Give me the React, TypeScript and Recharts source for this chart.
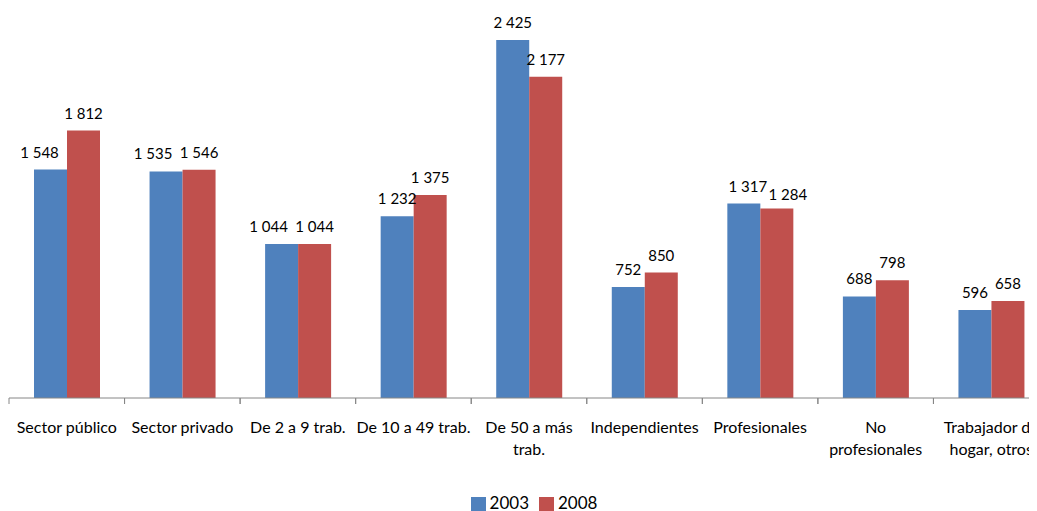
import React from "react";
import { BarChart, Bar, XAxis, YAxis, Legend, LabelList } from "recharts";

// categories (one line per entry, "\n" where the original label wraps)
const categories = [
  "Sector público",
  "Sector privado",
  "De 2 a 9 trab.",
  "De 10 a 49 trab.",
  "De 50 a más\ntrab.",
  "Independientes",
  "Profesionales",
  "No\nprofesionales",
  "Trabajador de\nhogar, otros",
];

const values2003 = [1548, 1535, 1044, 1232, 2425, 752, 1317, 688, 596];
const values2008 = [1812, 1546, 1044, 1375, 2177, 850, 1284, 798, 658];

const data = categories.map((name, i) => ({
  name,
  y2003: values2003[i],
  y2008: values2008[i],
}));

const BLUE = "#4F81BD";
const RED = "#C0504D";
const FONT = "Lato, 'Open Sans', sans-serif";

const WIDTH = 1041;
const PLOT_W = 1040;
const STEP = PLOT_W / categories.length;

// the source nudged a few labels sideways so they don't collide
const nudge2003: Record<number, number> = { 0: -11, 1: -13, 2: -13, 6: 4 };
const nudge2008: Record<number, number> = { 6: 11 };

// thousands with a space, as in the source
const fmt = (v: number) => String(v).replace(/\B(?=(\d{3})+(?!\d))/g, " ");

const CategoryTick = (props: any) => {
  const { x, y, payload } = props;
  const lines = String(payload.value).split("\n");
  const left = x - STEP / 2;
  return (
    <g>
      <line x1={left} y1={y - 8} x2={left} y2={y - 2} stroke="#868686" />
      <line x1={left + STEP} y1={y - 8} x2={left + STEP} y2={y - 2} stroke="#868686" />
      <text x={x} y={y + 27} textAnchor="middle" fontSize={16} fill="#000" fontFamily={FONT}>
        {lines.map((l, i) => (
          <tspan key={i} x={x} dy={i === 0 ? 0 : 22}>
            {l}
          </tspan>
        ))}
      </text>
    </g>
  );
};

const makeLabel = (nudge: Record<number, number>) => (props: any) => {
  const { x, y, width, value, index } = props;
  const dx = nudge[index] || 0;
  const dy = index === 6 && nudge === nudge2008 ? 4 : 0;
  return (
    <text x={x + width / 2 + dx} y={y - 12 + dy} textAnchor="middle" fontSize={15} fill="#000" fontFamily={FONT}>
      {fmt(value)}
    </text>
  );
};

const Label2003 = makeLabel(nudge2003);
const Label2008 = makeLabel(nudge2008);

const App = () => {
  return (
    <div style={{ width: WIDTH, height: 505, fontFamily: FONT }}>
      <BarChart
        width={WIDTH}
        height={505}
        data={data}
        margin={{ top: 21, right: 0, left: 1, bottom: 0 }}
        barGap={0}
      >
        <XAxis
          dataKey="name"
          interval={0}
          height={94}
          tickLine={false}
          axisLine={{ stroke: "#868686" }}
          tick={<CategoryTick />}
        />
        <YAxis hide domain={[0, 2500]} />
        <Legend
          verticalAlign="bottom"
          iconType="square"
          iconSize={15}
          wrapperStyle={{ fontSize: 17, fontFamily: FONT, color: "#000", paddingLeft: 10 }}
          formatter={(v: string) => <span style={{ color: "#000" }}>{v}</span>}
        />
        <Bar dataKey="y2003" name="2003" fill={BLUE} barSize={33} isAnimationActive={false}>
          <LabelList dataKey="y2003" content={<Label2003 />} />
        </Bar>
        <Bar dataKey="y2008" name="2008" fill={RED} barSize={33} isAnimationActive={false}>
          <LabelList dataKey="y2008" content={<Label2008 />} />
        </Bar>
      </BarChart>
    </div>
  );
};

export default App;
